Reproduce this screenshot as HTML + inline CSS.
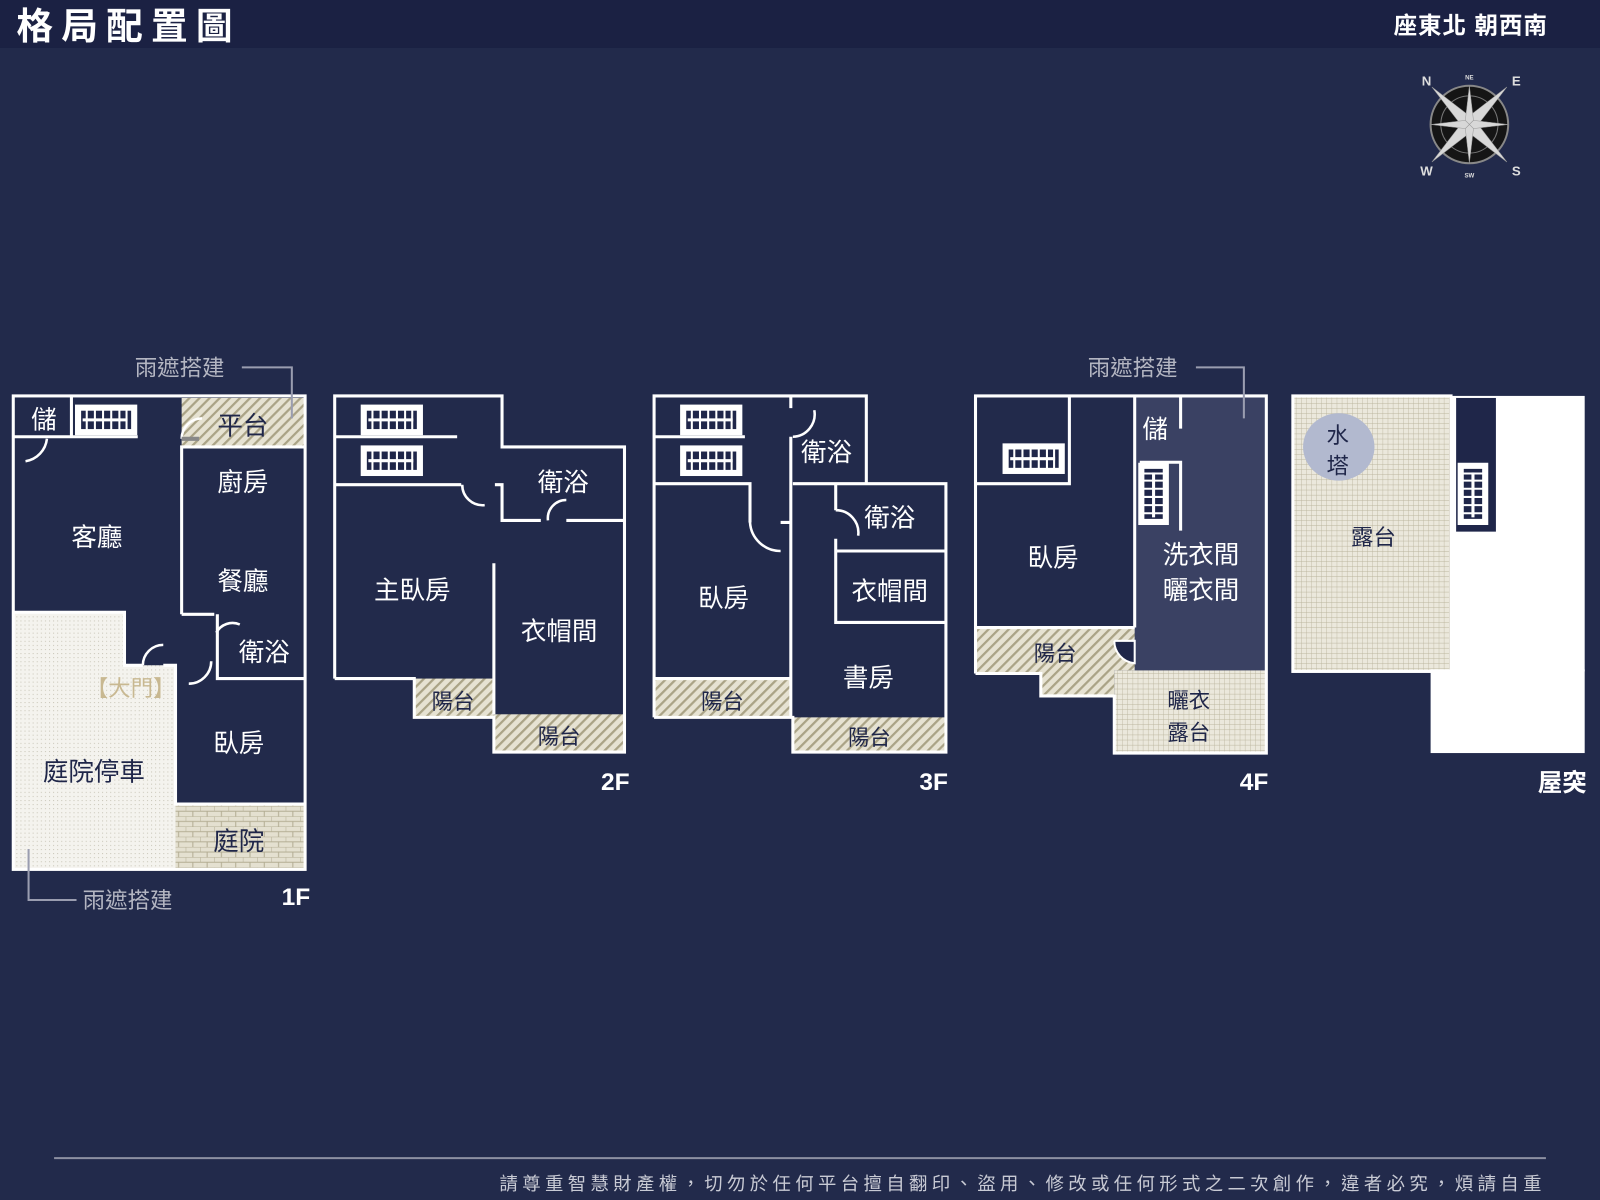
<!DOCTYPE html>
<html><head><meta charset="utf-8"><style>
html,body{margin:0;padding:0;background:#222a4b;}
svg{display:block}
text{font-family:"Liberation Sans","Noto Sans CJK TC",sans-serif;}
</style></head><body>
<svg width="1600" height="1200" viewBox="0 0 1568 1176" xmlns="http://www.w3.org/2000/svg">
<defs>
<pattern id="hatch" width="7" height="7" patternUnits="userSpaceOnUse" patternTransform="rotate(45)">
<rect width="7" height="7" fill="#e6e2d2"/><rect width="2.2" height="7" fill="#aaa386"/></pattern>
<pattern id="dots" width="4" height="4" patternUnits="userSpaceOnUse"><rect width="4" height="4" fill="#f4f3ee"/><rect width="1" height="1" fill="#c9c6b8"/></pattern>
<pattern id="brick" width="14" height="10" patternUnits="userSpaceOnUse"><rect width="14" height="10" fill="#e4e0d0"/><path d="M0 0H14M0 5H14M0 0V5M7 5V10" stroke="#b3ad93" stroke-width="1"/></pattern>
<pattern id="grid" width="5" height="5" patternUnits="userSpaceOnUse"><rect width="5" height="5" fill="#ebe8dc"/><path d="M0 0H5M0 0V5" stroke="#b9b39b" stroke-width="0.8"/></pattern>
<g id="stairH"><rect x="0" y="0" width="58" height="27" fill="#fff"/><rect x="3" y="3" width="52" height="21" fill="#1f2649"/><path d="M10 3V24M18 3V24M26 3V24M34 3V24M42 3V24M49 3V24" stroke="#fff" stroke-width="2"/><path d="M6 13.5H50" stroke="#fff" stroke-width="3"/></g>
</defs>
<rect width="1568" height="1176" fill="#222a4b"/>
<rect width="1568" height="47" fill="#1b2143"/>
<text x="16" y="38" fill="#fff" font-size="36" font-weight="bold" letter-spacing="8">格局配置圖</text>
<text x="1517" y="33" fill="#fff" font-size="23" font-weight="bold" text-anchor="end" letter-spacing="1">座東北 朝西南</text>

<!-- compass -->
<g transform="translate(1440,122)">
<circle r="38" fill="#151515" stroke="#888" stroke-width="2"/>
<circle r="28" fill="none" stroke="#777" stroke-width="1"/>
<g fill="#d8d8d8" stroke="#999" stroke-width="0.5">
<polygon points="0,-52 6,-6 0,0 -6,-6" transform="rotate(-45)"/><polygon points="0,-52 6,-6 0,0 -6,-6" transform="rotate(45)"/>
<polygon points="0,-52 6,-6 0,0 -6,-6" transform="rotate(135)"/><polygon points="0,-52 6,-6 0,0 -6,-6" transform="rotate(225)"/>
<polygon points="0,-38 4,-4 0,0 -4,-4"/><polygon points="0,-38 4,-4 0,0 -4,-4" transform="rotate(90)"/>
<polygon points="0,-38 4,-4 0,0 -4,-4" transform="rotate(180)"/><polygon points="0,-38 4,-4 0,0 -4,-4" transform="rotate(270)"/>
</g>
<g fill="#ddd" font-size="13" font-family="Liberation Serif" font-weight="bold" text-anchor="middle">
<text x="-42" y="-38">N</text><text x="46" y="-38">E</text><text x="-42" y="50">W</text><text x="46" y="50">S</text>
<text x="0" y="-44" font-size="6">NE</text><text x="0" y="52" font-size="6">SW</text></g>
</g>

<g fill="none" stroke="#fff" stroke-width="3">
<!-- 1F -->
<rect x="178" y="390" width="121" height="48" fill="url(#hatch)" stroke="none"/>
<polygon points="13,600 122,600 122,652 172,652 172,852 13,852" fill="url(#dots)" stroke="none"/>
<rect x="172" y="788" width="127" height="64" fill="url(#brick)" stroke="none"/>
<rect x="13" y="388" width="286" height="464"/>
<path d="M13 428H70V388M70 428H135M178 602V438H299M178 602H210M213 602V665H299M172 665V788H299M13 600H122V652H140M160 652H172V665M178 430H195"/>
<path d="M25 452A25 25 0 0 0 46 430M140 652A20 20 0 0 1 160 632M185 670A22 22 0 0 0 207 648M212 620A18 18 0 0 1 235 612M178 430A20 20 0 0 1 198 410" stroke-width="2.5"/>
<path d="M195 430H178" stroke="#888" stroke-width="4"/>
<use href="#stairH" x="75" y="398"/>
<!-- 2F -->
<rect x="406" y="665" width="78" height="38" fill="url(#hatch)" stroke="none"/>
<rect x="484" y="700" width="128" height="37" fill="url(#hatch)" stroke="none"/>
<path d="M328 665V388H492V438H612V737H484V703H406V665H328M328 428H448M328 475H452M485 475H492V510H530M555 510H612M484 552V700M328 665H406"/>
<path d="M453 475A20 20 0 0 0 475 495M537 510A18 18 0 0 1 555 490" stroke-width="2.5"/>
<use href="#stairH" x="355" y="398"/><use href="#stairH" x="355" y="438"/>
<!-- 3F -->
<rect x="641" y="665" width="134" height="38" fill="url(#hatch)" stroke="none"/>
<rect x="777" y="703" width="150" height="34" fill="url(#hatch)" stroke="none"/>
<path d="M641 703V388H849V474H927V737H777V703H641M775 388V400M775 428V703M641 428H730M641 474H735V512M765 512H775M849 474H777M819 474V500M819 528V610H927M819 540H927M641 665H775"/>
<path d="M735 512A30 30 0 0 0 765 540M777 428A22 22 0 0 0 798 402M819 500A22 22 0 0 1 841 525" stroke-width="2.5"/>
<use href="#stairH" x="668" y="398"/><use href="#stairH" x="668" y="438"/>
<!-- 4F -->
<rect x="1112" y="388" width="129" height="269" fill="#3a4163" stroke="none"/>
<polygon points="956,615 1112,615 1112,657 1092,657 1092,682 1020,682 1020,660 956,660" fill="url(#hatch)" stroke="none"/>
<rect x="1092" y="657" width="149" height="81" fill="url(#grid)" stroke="none"/>
<path d="M956 660V388H1241V738H1092V682H1020V660H956M1048 388V474H956M1112 388V615M1157 388V420M1117 453H1157V520M956 615H1112"/>
<path d="M1092 628H1112V650A22 22 0 0 1 1092 628" fill="#1f2649" stroke-width="2"/>
<use href="#stairH" x="984" y="436"/>
<g transform="translate(1117,513) rotate(-90)"><use href="#stairH"/></g>
<!-- Roof -->
<rect x="1267" y="388" width="155" height="270" fill="url(#grid)" stroke="#fff" stroke-width="3"/>
<rect x="1422" y="388" width="131" height="270" fill="#fff" stroke="none"/>
<rect x="1402" y="656" width="151" height="82" fill="#fff" stroke="none"/>
<rect x="1427" y="390" width="39" height="131" fill="#1f2649" stroke="none"/>
<g transform="translate(1430,513) rotate(-90)"><use href="#stairH"/></g>
</g>
<ellipse cx="1312" cy="438" rx="35" ry="33" fill="#b2b9cf"/>
<!-- leaders -->
<g fill="none" stroke="#9a9db0" stroke-width="2">
<path d="M237 360H286V410"/><path d="M28 832V882H75"/><path d="M1172 360H1219V410"/></g>
<g font-size="22" fill="#b4b6c2"><text x="132" y="368">雨遮搭建</text><text x="81" y="890">雨遮搭建</text><text x="1066" y="368">雨遮搭建</text></g>
<text x="84" y="682" font-size="22" fill="#c8b891">【大門】</text>
<g fill="#fff" font-size="25" text-anchor="middle">
<text x="43" y="420">儲</text><text x="95" y="535">客廳</text><text x="238" y="426" fill="#1f2649">平台</text>
<text x="238" y="481">廚房</text><text x="238" y="578">餐廳</text><text x="259" y="648">衛浴</text><text x="234" y="737">臥房</text>
<text x="92" y="765" fill="#1f2649">庭院停車</text><text x="234" y="833" fill="#1f2649">庭院</text>
<text x="552" y="481">衛浴</text><text x="404" y="587">主臥房</text><text x="548" y="627">衣帽間</text>
<text x="444" y="695" font-size="21" fill="#1f2649">陽台</text><text x="548" y="729" font-size="21" fill="#1f2649">陽台</text>
<text x="810" y="452">衛浴</text><text x="872" y="516">衛浴</text><text x="872" y="588">衣帽間</text><text x="709" y="595">臥房</text><text x="851" y="673">書房</text>
<text x="708" y="695" font-size="21" fill="#1f2649">陽台</text><text x="852" y="730" font-size="21" fill="#1f2649">陽台</text>
<text x="1132" y="429">儲</text><text x="1032" y="555">臥房</text><text x="1177" y="552">洗衣間</text><text x="1177" y="587">曬衣間</text>
<text x="1034" y="648" font-size="21" fill="#1f2649">陽台</text>
<text x="1165" y="694" font-size="21" fill="#1f2649">曬衣</text><text x="1165" y="725" font-size="21" fill="#1f2649">露台</text>
<text x="1311" y="434" font-size="22" fill="#1f2649">水</text><text x="1311" y="464" font-size="22" fill="#1f2649">塔</text>
<text x="1346" y="534" font-size="22" fill="#1f2649">露台</text>
</g>
<g fill="#fff" font-size="24" font-weight="bold" text-anchor="end">
<text x="304" y="887">1F</text><text x="617" y="774">2F</text><text x="929" y="774">3F</text><text x="1243" y="774">4F</text><text x="1555" y="775">屋突</text></g>
<path d="M53 1135H1515" stroke="#8d90a2" stroke-width="2"/>
<text x="1515" y="1166" font-size="18" fill="#c8cad4" text-anchor="end" letter-spacing="4.3">請尊重智慧財產權，切勿於任何平台擅自翻印、盜用、修改或任何形式之二次創作，違者必究，煩請自重</text>
</svg>
</body></html>
